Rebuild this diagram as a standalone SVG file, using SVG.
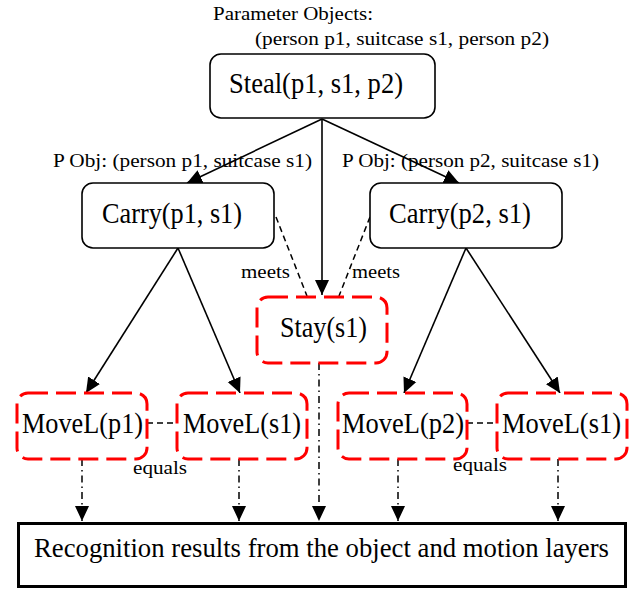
<svg xmlns="http://www.w3.org/2000/svg" width="644" height="590" viewBox="0 0 644 590" font-family="'Liberation Serif', 'DejaVu Serif', serif">
<style>
text{font-family:'Liberation Serif','DejaVu Serif',serif;fill:#000}
.sm{font-size:19px}
.lg{font-size:29px}
.box{fill:#fff;stroke:#000;stroke-width:1.6}
.rbox{fill:#fff;stroke:#ff0000;stroke-width:3;stroke-dasharray:20 8}
.solid{stroke:#000;stroke-width:1.6;fill:none}
.dd{stroke:#000;stroke-width:1.5;fill:none;stroke-dasharray:7 4 1.5 4}
.dash{stroke:#000;stroke-width:1.5;fill:none;stroke-dasharray:6 4}
</style>
<defs>
<marker id="ah" markerUnits="userSpaceOnUse" markerWidth="16" markerHeight="16" viewBox="0 0 16 16" refX="15" refY="8" orient="auto">
<path d="M0,1 L15,8 L0,15 Z" fill="#000"/>
</marker>
</defs>
<rect width="644" height="590" fill="#fff"/>
<g id="labels">
<text class="sm" x="213" y="20" textLength="160" lengthAdjust="spacingAndGlyphs">Parameter Objects:</text>
<text class="sm" x="255" y="45" textLength="294" lengthAdjust="spacingAndGlyphs">(person p1, suitcase s1, person p2)</text>
<text class="sm" x="53" y="167" textLength="259" lengthAdjust="spacingAndGlyphs">P Obj: (person p1, suitcase s1)</text>
<text class="sm" x="342" y="167" textLength="257" lengthAdjust="spacingAndGlyphs">P Obj: (person p2, suitcase s1)</text>
</g>
<g id="connectors">
<line class="solid" x1="322" y1="119" x2="187" y2="183" marker-end="url(#ah)"/>
<line class="solid" x1="322" y1="119" x2="459" y2="183" marker-end="url(#ah)"/>
<line class="solid" x1="322" y1="119" x2="322" y2="295" marker-end="url(#ah)"/>
<line class="solid" x1="178" y1="248" x2="86" y2="393" marker-end="url(#ah)"/>
<line class="solid" x1="178" y1="248" x2="240" y2="393" marker-end="url(#ah)"/>
<line class="solid" x1="466" y1="248" x2="404" y2="393" marker-end="url(#ah)"/>
<line class="solid" x1="466" y1="248" x2="560" y2="393" marker-end="url(#ah)"/>
<line class="dash" x1="276" y1="217" x2="307" y2="296"/>
<line class="dash" x1="370" y1="217" x2="339" y2="296"/>
<line class="dash" x1="147" y1="423" x2="177" y2="423"/>
<line class="dash" x1="467" y1="423" x2="497" y2="423"/>
<line class="dd" x1="82" y1="459" x2="82" y2="521" marker-end="url(#ah)"/>
<line class="dd" x1="239" y1="459" x2="239" y2="521" marker-end="url(#ah)"/>
<line class="dd" x1="319" y1="363" x2="319" y2="521" marker-end="url(#ah)"/>
<line class="dd" x1="398" y1="459" x2="398" y2="521" marker-end="url(#ah)"/>
<line class="dd" x1="558" y1="459" x2="558" y2="521" marker-end="url(#ah)"/>
<text class="sm" x="241" y="278" textLength="49" lengthAdjust="spacingAndGlyphs">meets</text>
<text class="sm" x="352" y="278" textLength="48" lengthAdjust="spacingAndGlyphs">meets</text>
<text class="sm" x="133" y="474" textLength="54" lengthAdjust="spacingAndGlyphs">equals</text>
<text class="sm" x="453" y="471" textLength="54" lengthAdjust="spacingAndGlyphs">equals</text>
</g>
<g id="steal">
<rect class="box" x="210" y="54" width="225" height="64" rx="11"/>
<text class="lg" x="229" y="93" textLength="174" lengthAdjust="spacingAndGlyphs">Steal(p1, s1, p2)</text>
</g>
<g id="carry1">
<rect class="box" x="82" y="183" width="192" height="65" rx="11"/>
<text class="lg" x="102" y="223" textLength="140" lengthAdjust="spacingAndGlyphs">Carry(p1, s1)</text>
</g>
<g id="carry2">
<rect class="box" x="370" y="183" width="192" height="65" rx="11"/>
<text class="lg" x="389" y="223" textLength="142" lengthAdjust="spacingAndGlyphs">Carry(p2, s1)</text>
</g>
<g id="stay">
<rect class="rbox" x="257" y="297" width="130" height="66" rx="11"/>
<text class="lg" x="280" y="337" textLength="87" lengthAdjust="spacingAndGlyphs">Stay(s1)</text>
</g>
<g id="movep1">
<rect class="rbox" x="17" y="393" width="130" height="66" rx="11"/>
<text class="lg" x="22" y="433" textLength="121" lengthAdjust="spacingAndGlyphs">MoveL(p1)</text>
</g>
<g id="moves1a">
<rect class="rbox" x="177" y="393" width="130" height="66" rx="11"/>
<text class="lg" x="183" y="433" textLength="118" lengthAdjust="spacingAndGlyphs">MoveL(s1)</text>
</g>
<g id="movep2">
<rect class="rbox" x="338" y="393" width="129" height="66" rx="11"/>
<text class="lg" x="342" y="433" textLength="122" lengthAdjust="spacingAndGlyphs">MoveL(p2)</text>
</g>
<g id="moves1b">
<rect class="rbox" x="497" y="393" width="130" height="66" rx="11"/>
<text class="lg" x="502" y="433" textLength="119" lengthAdjust="spacingAndGlyphs">MoveL(s1)</text>
</g>
<g id="recognition">
<rect x="18.5" y="523.5" width="607" height="63" fill="#fff" stroke="#000" stroke-width="3"/>
<text x="34" y="557" font-size="27" textLength="575" lengthAdjust="spacingAndGlyphs">Recognition results from the object and motion layers</text>
</g>
</svg>
